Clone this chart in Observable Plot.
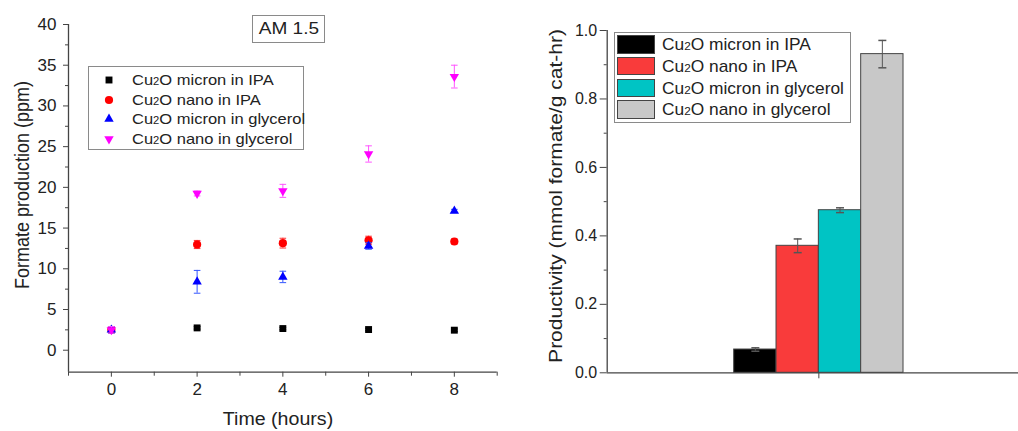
<!DOCTYPE html>
<html><head><meta charset="utf-8">
<script src="https://cdn.jsdelivr.net/npm/d3@7"></script>
<script src="https://cdn.jsdelivr.net/npm/@observablehq/plot@0.6"></script>
<style>
body{margin:0;width:1018px;height:431px;overflow:hidden;position:relative;background:#fff;font-family:"Liberation Sans",Arial,sans-serif;color:#222}
.abs{position:absolute}
#left{left:0;top:0;width:510px;height:431px}
#right{left:510px;top:0;width:520px;height:431px}
#left svg,#right svg{max-width:none !important}
.lab{position:absolute;white-space:nowrap;color:#222}
.box{position:absolute;border:1px solid #8a8a8a;background:#fff}
.row{position:absolute;white-space:nowrap;transform-origin:0 50%}
.s2{font-size:0.68em}
</style></head><body>
<div id="left" class="abs"></div>
<div id="right" class="abs"></div>
<script>
// ---------- data ----------
const series = ["Cu2O micron in IPA", "Cu2O nano in IPA", "Cu2O micron in glycerol", "Cu2O nano in glycerol"];
const times = [0, 2, 4, 6, 8];
const microIPA = [2.5, 2.74, 2.66, 2.54, 2.46];
const microIPAErr = [0.2, 0.15, 0.15, 0.15, 0.15];
const nanoIPA = [2.5, 12.98, 13.15, 13.5, 13.35];
const nanoIPAErr = [0.3, 0.5, 0.6, 0.5, 0.3];
const microGly = [2.5, 8.4, 9.0, 12.8, 17.1];
const microGlyErr = [0.4, 1.4, 0.7, 0.4, 0.2];
const nanoGly = [2.5, 19.25, 19.57, 24.1, 33.6];
const nanoGlyErr = [0.4, 0.3, 0.8, 1.0, 1.4];
const productivity = [0.068, 0.371, 0.475, 0.931];
const productivityErr = [0.005, 0.02, 0.007, 0.04];
const leftYTicks = [0, 5, 10, 15, 20, 25, 30, 35, 40];
const leftXTicks = [0, 2, 4, 6, 8];
const rightYTicks = [0.0, 0.2, 0.4, 0.6, 0.8, 1.0];

const markerColors = ["#000000", "#ff0000", "#0000ff", "#ff00ff"];
const errColors = ["#000000", "#ff3333", "#3355ff", "#ff55ff"];
const barColors = ["#000000", "#f93b3b", "#00c4c4", "#c8c8c8"];

const triDown = {draw(ctx, size){const y = -Math.sqrt(size/(Math.sqrt(3)*3)); ctx.moveTo(0,-y*2); ctx.lineTo(-Math.sqrt(3)*y, y); ctx.lineTo(Math.sqrt(3)*y, y); ctx.closePath();}};
const capSym = {draw(ctx, size){const r = Math.sqrt(size/Math.PI); ctx.moveTo(-r,0); ctx.lineTo(r,0);}};
const symbols = [d3.symbolSquare, d3.symbolCircle, d3.symbolTriangle, triDown];
const radii = [3.9, 4.1, 3.5, 3.5];

const vals = [microIPA, nanoIPA, microGly, nanoGly];
const errs = [microIPAErr, nanoIPAErr, microGlyErr, nanoGlyErr];
const pts = [];
series.forEach((s, i) => times.forEach((t, j) => pts.push({s, i, t, v: vals[i][j], e: errs[i][j]})));
const blank = () => "";

// ---------- left chart ----------
const xDomL = [-1, 9], yDomL = [-2.7, 40];
const markL = [];
series.forEach((s, i) => {
  const d = pts.filter(p => p.i === i);
  markL.push(Plot.ruleX(d, {x: "t", y1: p => p.v - p.e, y2: p => p.v + p.e, stroke: errColors[i], strokeWidth: 1}));
  markL.push(Plot.dot(d, {x: "t", y: p => p.v - p.e, symbol: capSym, r: 3.3, stroke: errColors[i], strokeWidth: 1}));
  markL.push(Plot.dot(d, {x: "t", y: p => p.v + p.e, symbol: capSym, r: 3.3, stroke: errColors[i], strokeWidth: 1}));
  markL.push(Plot.dot(d, {x: "t", y: "v", symbol: symbols[i], r: radii[i], fill: markerColors[i], stroke: "none"}));
});
const left = Plot.plot({
  width: 510, height: 431,
  marginLeft: 68, marginRight: 13.3, marginTop: 24, marginBottom: 59.3,
  style: {fontFamily: "Liberation Sans, Arial, sans-serif", fontSize: "17px", color: "#222", background: "transparent"},
  x: {domain: xDomL},
  y: {domain: yDomL},
  marks: [
    Plot.axisY({ticks: d3.range(2.5, 40, 5), tickSize: 3, tickFormat: blank, stroke: "#444", label: null}),
    Plot.axisY({ticks: leftYTicks, tickSize: 5, tickPadding: 7, stroke: "#444", label: null, fontSize: 17}),
    Plot.axisX({ticks: d3.range(-1, 9.1, 2), tickSize: 4, tickFormat: blank, stroke: "#444", label: null}),
    Plot.axisX({ticks: leftXTicks, tickSize: 5, tickPadding: 6, stroke: "#444", label: null, fontSize: 17}),
    Plot.ruleX([xDomL[0]], {stroke: "#444", strokeWidth: 1.3}),
    Plot.ruleY([yDomL[0]], {stroke: "#444", strokeWidth: 1.3}),
    ...markL
  ]
});
document.getElementById("left").append(left);

// ---------- right chart ----------
const bars = series.map((s, i) => ({s, i, v: productivity[i], e: productivityErr[i], x1: i - series.length/2, x2: i - series.length/2 + 1}));
const xDomR = [-5, 5], yDomR = [0, 1];
const right = Plot.plot({
  width: 520, height: 431,
  marginLeft: 96.7, marginRight: 0, marginTop: 30, marginBottom: 58.7,
  style: {fontFamily: "Liberation Sans, Arial, sans-serif", fontSize: "16px", color: "#222", background: "transparent"},
  x: {domain: xDomR},
  y: {domain: yDomR},
  marks: [
    Plot.rectY(bars, {x1: "x1", x2: "x2", y1: 0, y2: "v", fill: (d) => barColors[d.i], stroke: "#444", strokeWidth: 1}),
    Plot.ruleX(bars, {x: d => (d.x1 + d.x2)/2, y1: d => d.v - d.e, y2: d => d.v + d.e, stroke: "#555", strokeWidth: 1}),
    Plot.dot(bars, {x: d => (d.x1 + d.x2)/2, y: d => d.v - d.e, symbol: capSym, r: 4, stroke: "#555"}),
    Plot.dot(bars, {x: d => (d.x1 + d.x2)/2, y: d => d.v + d.e, symbol: capSym, r: 4, stroke: "#555"}),
    Plot.axisY({ticks: d3.range(0.1, 1, 0.2), tickSize: 3, tickFormat: blank, stroke: "#444", label: null}),
    Plot.axisY({ticks: rightYTicks, tickSize: 7, tickPadding: 3, tickFormat: d3.format(".1f"), stroke: "#444", label: null, fontSize: 16}),
    Plot.axisX({ticks: [0], tickSize: 6, tickFormat: blank, stroke: "#444", label: null}),
    Plot.ruleX([xDomR[0]], {stroke: "#444", strokeWidth: 1.3}),
    Plot.ruleY([yDomR[0]], {stroke: "#444", strokeWidth: 1.3})
  ]
});
document.getElementById("right").append(right);

// ---------- text & legends ----------
function cu(s){ return s.replace("Cu2O", 'Cu<span class="s2">2</span>O'); }
function addLab(html, css){ const d = document.createElement("div"); d.className = "lab"; d.innerHTML = html; Object.assign(d.style, css); document.body.append(d); return d; }

addLab("Formate production (ppm)", {left: "23px", top: "185px", fontSize: "18px", transform: "translate(-50%,-50%) rotate(-90deg) scale(1,1.15)"});
addLab("Time (hours)", {left: "277.5px", top: "419px", fontSize: "17.5px", transform: "translate(-50%,-50%) scale(1.12,1)"});
addLab("Productivity (mmol formate/g cat-hr)", {left: "556px", top: "196px", fontSize: "21px", transform: "translate(-50%,-50%) rotate(-90deg) scale(1,0.88)"});

const am = document.createElement("div"); am.className = "box"; Object.assign(am.style, {left: "252px", top: "15px", width: "71px", height: "26px", lineHeight: "26px", textAlign: "center"});
am.innerHTML = '<span style="display:inline-block;font-size:17px;transform:scale(1.12,1)">AM 1.5</span>'; document.body.append(am);

// left legend
const lg = document.createElement("div"); lg.className = "box"; Object.assign(lg.style, {left: "88px", top: "66px", width: "214px", height: "82px"}); document.body.append(lg);
series.forEach((s, i) => {
  const cy = 13 + i * 19.7;
  const svg = d3.create("svg").attr("width", 16).attr("height", 16).style("position", "absolute").style("left", "12px").style("top", (cy - 8) + "px");
  svg.append("path").attr("transform", "translate(8,8)").attr("d", d3.symbol(symbols[i], Math.PI * radii[i] * radii[i])()).attr("fill", markerColors[i]);
  lg.append(svg.node());
  const r = document.createElement("div"); r.className = "row"; r.innerHTML = cu(s);
  Object.assign(r.style, {left: "43px", top: (cy - 9) + "px", fontSize: "15px", lineHeight: "18px", transform: "scale(1.1,1)"}); lg.append(r);
});

// right legend
const rg = document.createElement("div"); rg.className = "box"; Object.assign(rg.style, {left: "614px", top: "32px", width: "235px", height: "89px"}); document.body.append(rg);
series.forEach((s, i) => {
  const top = 2 + i * 21.8;
  const sw = document.createElement("div");
  Object.assign(sw.style, {position: "absolute", left: "2px", top: top + "px", width: "38px", height: "18.5px", background: barColors[i], border: "1px solid #444", boxSizing: "border-box"});
  rg.append(sw);
  const r = document.createElement("div"); r.className = "row"; r.innerHTML = cu(s);
  Object.assign(r.style, {left: "47px", top: (top) + "px", fontSize: "17px", lineHeight: "19px", transform: "scale(1.02,1)"}); rg.append(r);
});
</script>
</body></html>
